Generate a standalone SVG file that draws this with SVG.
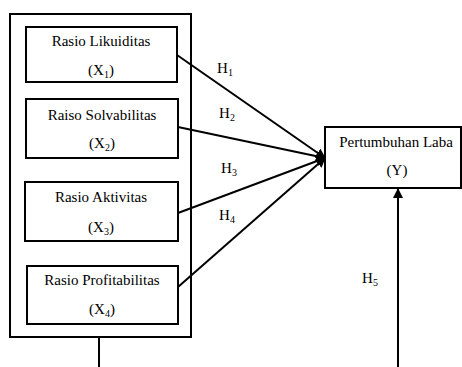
<svg xmlns="http://www.w3.org/2000/svg" width="462" height="367" viewBox="0 0 462 367">
<style>
.b{fill:#fff;stroke:#000;stroke-width:2}
.t{font-family:"Liberation Serif","Times New Roman",serif;font-size:15px;fill:#000;text-anchor:middle}
.s{font-size:10px}
.c{stroke:#000;stroke-width:2;fill:none}
</style>
<defs>
<marker id="ah" viewBox="0 0 10 10" refX="9" refY="5" markerWidth="5" markerHeight="5" orient="auto" markerUnits="strokeWidth">
<path d="M0,0 L10,5 L0,10 z" fill="#000"/>
</marker>
</defs>
<g id="outer"><rect class="b" x="10" y="14" width="181" height="323"/></g>
<g id="x1"><rect class="b" x="26" y="27" width="151" height="55"/>
<text class="t" x="101" y="46">Rasio Likuiditas</text>
<text class="t" x="101" y="75">(X<tspan class="s" dy="3">1</tspan><tspan dy="-3">)</tspan></text></g>
<g id="x2"><rect class="b" x="26" y="99" width="152" height="59"/>
<text class="t" x="102" y="120">Raiso Solvabilitas</text>
<text class="t" x="102" y="148">(X<tspan class="s" dy="3">2</tspan><tspan dy="-3">)</tspan></text></g>
<g id="x3"><rect class="b" x="25" y="182" width="153" height="59"/>
<text class="t" x="101" y="202">Rasio Aktivitas</text>
<text class="t" x="101" y="232">(X<tspan class="s" dy="3">3</tspan><tspan dy="-3">)</tspan></text></g>
<g id="x4"><rect class="b" x="27" y="266" width="151" height="58"/>
<text class="t" x="102" y="285">Rasio Profitabilitas</text>
<text class="t" x="102" y="314">(X<tspan class="s" dy="3">4</tspan><tspan dy="-3">)</tspan></text></g>
<g id="y"><rect class="b" x="325" y="127" width="136" height="61"/>
<text class="t" x="396" y="147">Pertumbuhan Laba</text>
<text class="t" x="397" y="175">(Y)</text></g>
<g id="connectors">
<line class="c" x1="177" y1="55" x2="325" y2="158" marker-end="url(#ah)"/>
<line class="c" x1="178" y1="127" x2="325" y2="158" marker-end="url(#ah)"/>
<line class="c" x1="178" y1="213" x2="325" y2="158" marker-end="url(#ah)"/>
<line class="c" x1="178" y1="287" x2="325" y2="158" marker-end="url(#ah)"/>
<line class="c" x1="398" y1="367" x2="398" y2="189" marker-end="url(#ah)"/>
<line class="c" x1="99" y1="337" x2="99" y2="367"/>
</g>
<g id="labels">
<text class="t" x="225" y="73">H<tspan class="s" dy="3">1</tspan></text>
<text class="t" x="227" y="118">H<tspan class="s" dy="3">2</tspan></text>
<text class="t" x="229" y="173">H<tspan class="s" dy="3">3</tspan></text>
<text class="t" x="227" y="220">H<tspan class="s" dy="3">4</tspan></text>
<text class="t" x="370" y="283">H<tspan class="s" dy="3">5</tspan></text>
</g>
</svg>
